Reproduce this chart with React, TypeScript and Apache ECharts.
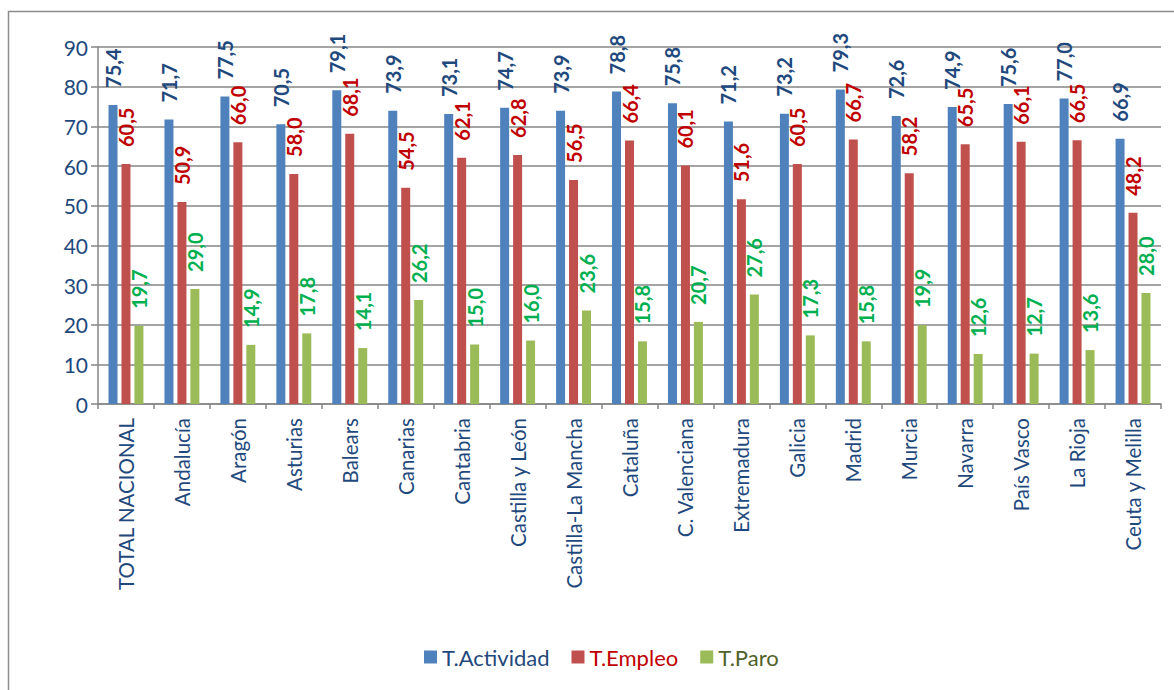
import React, { useEffect, useRef } from "react";
import * as echarts from "echarts";

const categories = [
  "TOTAL NACIONAL", "Andalucía", "Aragón", "Asturias", "Balears", "Canarias",
  "Cantabria", "Castilla y León", "Castilla-La Mancha", "Cataluña", "C. Valenciana",
  "Extremadura", "Galicia", "Madrid", "Murcia", "Navarra", "País Vasco", "La Rioja",
  "Ceuta y Melilla",
];
const actividad = [75.4, 71.7, 77.5, 70.5, 79.1, 73.9, 73.1, 74.7, 73.9, 78.8, 75.8, 71.2, 73.2, 79.3, 72.6, 74.9, 75.6, 77.0, 66.9];
const empleo = [60.5, 50.9, 66.0, 58.0, 68.1, 54.5, 62.1, 62.8, 56.5, 66.4, 60.1, 51.6, 60.5, 66.7, 58.2, 65.5, 66.1, 66.5, 48.2];
const paro = [19.7, 29.0, 14.9, 17.8, 14.1, 26.2, 15.0, 16.0, 23.6, 15.8, 20.7, 27.6, 17.3, 15.8, 19.9, 12.6, 12.7, 13.6, 28.0];
const yTicks = [0, 10, 20, 30, 40, 50, 60, 70, 80, 90];

const FONT = "Lato, 'Open Sans', sans-serif";
const fmt = (p: any) => Number(p.value).toFixed(1).replace(".", ",");

export default function App() {
  const ref = useRef<HTMLDivElement>(null);
  useEffect(() => {
    if (!ref.current) return;
    const chart = echarts.init(ref.current, null, { renderer: "svg" });
    const mkLabel = (color: string) => ({
      show: true,
      position: "top",
      rotate: 90,
      align: "left",
      verticalAlign: "middle",
      distance: 17,
      offset: [0, 0],
      formatter: fmt,
      color,
      fontFamily: FONT,
      fontWeight: "bold",
      fontSize: 20,
    });
    chart.setOption({
      animation: false,
      backgroundColor: "#ffffff",
      graphic: [
        {
          type: "rect",
          shape: { x: 8.5, y: 11.5, width: 1180, height: 700 },
          style: { fill: "none", stroke: "#8c8c8c", lineWidth: 1.5 },
          silent: true,
        },
      ],
      grid: { left: 98, right: 13, top: 47, bottom: 286, containLabel: false },
      legend: {
        left: 419,
        top: 641,
        itemWidth: 13,
        itemHeight: 13,
        itemGap: 22,
        icon: "rect",
        textStyle: { fontFamily: FONT, fontSize: 22 },
        data: [
          { name: "T.Actividad", textStyle: { color: "#1F497D" } },
          { name: "T.Empleo", textStyle: { color: "#C00000" } },
          { name: "T.Paro", textStyle: { color: "#4F6228" } },
        ],
      },
      xAxis: {
        type: "category",
        data: categories,
        axisLine: { lineStyle: { color: "#868686", width: 1.5 } },
        axisTick: { show: true, length: 5, lineStyle: { color: "#868686", width: 1.5 } },
        axisLabel: {
          rotate: 90,
          interval: 0,
          margin: 14,
          color: "#1F497D",
          fontFamily: FONT,
          fontSize: 20.5,
        },
      },
      yAxis: {
        type: "value",
        min: yTicks[0],
        max: yTicks[yTicks.length - 1],
        interval: 10,
        axisLine: { show: true, lineStyle: { color: "#868686", width: 1.5 } },
        axisTick: { show: true, length: 7, lineStyle: { color: "#868686", width: 1.5 } },
        splitLine: { lineStyle: { color: "#868686", width: 1.5 } },
        axisLabel: {
          margin: 10,
          color: "#1F497D",
          fontFamily: FONT,
          fontSize: 21,
        },
      },
      series: [
        {
          name: "T.Actividad",
          type: "bar",
          data: actividad,
          barWidth: 9,
          barGap: "44%",
          barCategoryGap: "37%",
          itemStyle: { color: "#4F81BD" },
          label: mkLabel("#1F497D"),
        },
        {
          name: "T.Empleo",
          type: "bar",
          data: empleo,
          barWidth: 9,
          barGap: "44%",
          itemStyle: { color: "#C0504D" },
          label: mkLabel("#C00000"),
        },
        {
          name: "T.Paro",
          type: "bar",
          data: paro,
          barWidth: 9,
          barGap: "44%",
          itemStyle: { color: "#9BBB59" },
          label: mkLabel("#00B050"),
        },
      ],
    });
    return () => chart.dispose();
  }, []);
  return (
    <div
      ref={ref}
      style={{ position: "absolute", left: 0, top: 0, width: 1174, height: 690 }}
    />
  );
}
